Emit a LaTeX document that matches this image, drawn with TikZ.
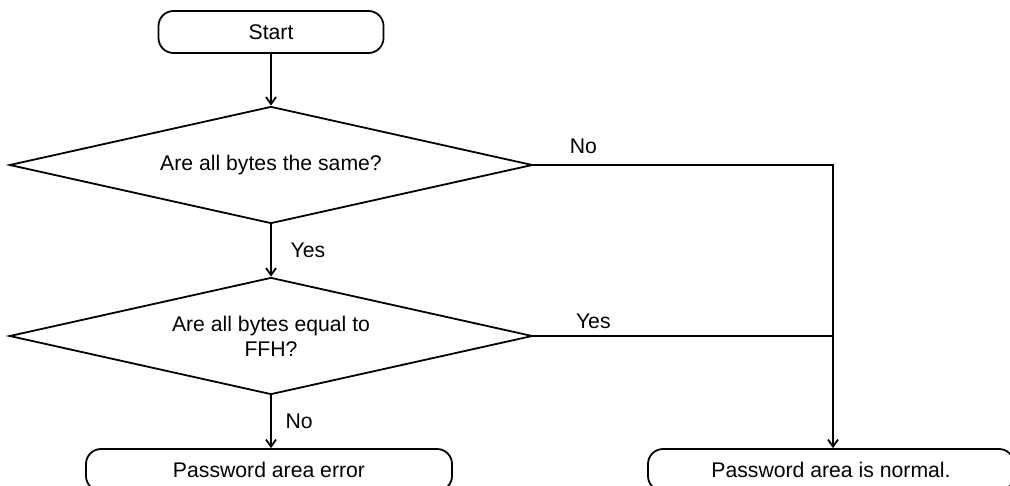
\documentclass[tikz,border=0pt]{standalone}
\usepackage{fontspec}
\setmainfont{Liberation Sans}
\usetikzlibrary{shapes.geometric, arrows.meta}

\begin{document}
\begin{tikzpicture}[x=0.5pt, y=-0.5pt, >={Straight Barb[length=3.5pt,width=5pt]}, line width=0.9pt,
		every node/.style={font=\fontsize{10.6}{12.5}\selectfont},
		term/.style={draw, rectangle, rounded corners=7.5pt, minimum height=21pt, inner sep=0pt},
		test/.style={draw, diamond, aspect=4.47, minimum width=261.5pt, minimum height=58.5pt, inner sep=0pt, align=center}]
		\useasboundingbox (0,0) rectangle (1010,486);
		\clip (0,0) rectangle (1010,486);
		
		\node[term, minimum width=112.5pt] (start) at (271,32) {Start};
		\node[test] (same) at (271,165) {Are all bytes the same?};
		\node[test] (ffh) at (271,336) {Are all bytes equal to\\FFH?};
		\node[term, minimum width=183pt] (err) at (269,470) {Password area error};
		\node[term, minimum width=183pt] (ok) at (831,470) {Password area is normal.};
		\coordinate (j1) at (833,165);
		\coordinate (j2) at (833,336);
		
		\draw[->] (start) -- (same);
		\draw[->] (same) -- node[right=6pt]{Yes} (ffh);
		\draw[->] (ffh) -- node[right=3.5pt]{No} (ffh |- err.north);
		\draw[->] (same.east) -- node[pos=.167, above=2pt]{No} (j1) -- (j1 |- ok.north);
		\draw (ffh.east) -- node[pos=.2, above]{Yes} (j2);
\end{tikzpicture}
\end{document}
